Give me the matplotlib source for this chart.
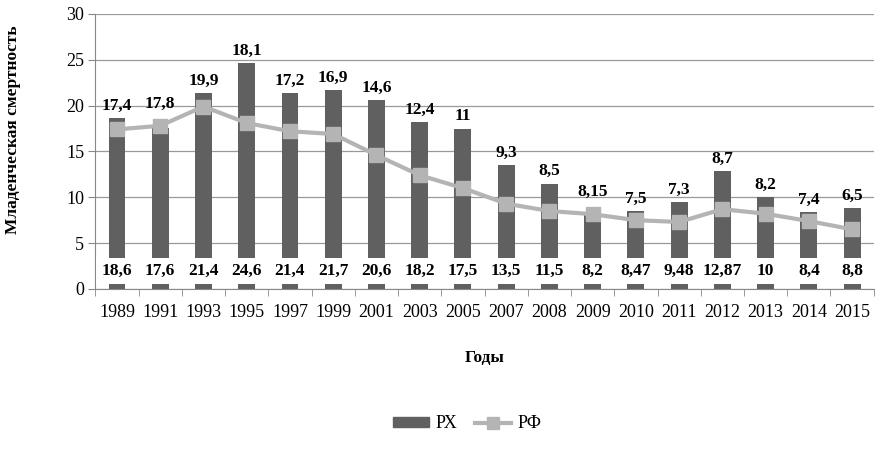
import matplotlib
matplotlib.use('Agg')
import matplotlib.pyplot as plt
from matplotlib.lines import Line2D
from matplotlib.patches import Patch

plt.rcParams['font.family'] = ['Liberation Serif', 'DejaVu Serif']

# Data
years = ['1989', '1991', '1993', '1995', '1997', '1999', '2001', '2003', '2005',
         '2007', '2008', '2009', '2010', '2011', '2012', '2013', '2014', '2015']
rx = [18.6, 17.6, 21.4, 24.6, 21.4, 21.7, 20.6, 18.2, 17.5,
      13.5, 11.5, 8.2, 8.47, 9.48, 12.87, 10, 8.4, 8.8]
rf = [17.4, 17.8, 19.9, 18.1, 17.2, 16.9, 14.6, 12.4, 11,
      9.3, 8.5, 8.15, 7.5, 7.3, 8.7, 8.2, 7.4, 6.5]

bar_color = '#606060'
line_color = '#b4b4b4'


def fmt(v):
    return f'{v:g}'.replace('.', ',')


fig = plt.figure(figsize=(8.83, 4.5), dpi=100)
ax = fig.add_axes([0.108, 0.358, 0.8815, 0.611])

x = list(range(len(years)))
ax.bar(x, rx, width=0.39, color=bar_color, zorder=2)
ax.plot(x, rf, color=line_color, lw=3, marker='s', markersize=10, zorder=3)

# bottom labels for bars
for i, v in enumerate(rx):
    ax.text(i, 1.95, fmt(v), ha='center', va='center', fontsize=12.5, fontweight='bold',
            bbox=dict(boxstyle='square,pad=0.3', fc='white', ec='none'), zorder=4)

# labels for line
for i, (b, l) in enumerate(zip(rx, rf)):
    if b > l + 0.5:
        ax.annotate(fmt(l), (i, b), xytext=(0, 3), textcoords='offset points',
                    ha='center', va='bottom', fontsize=12.5, fontweight='bold', zorder=4)
    else:
        ax.annotate(fmt(l), (i, l), xytext=(0, 10), textcoords='offset points',
                    ha='center', va='bottom', fontsize=12.5, fontweight='bold', zorder=4)

ax.set_xlim(-0.5, len(years) - 0.5)
ax.set_ylim(0, 30)
ax.set_yticks([0, 5, 10, 15, 20, 25, 30])
ax.set_xticks(x)
ax.set_xticklabels(years)
ax.set_xticks([i + 0.5 for i in range(-1, len(years))], minor=True)
ax.tick_params(axis='x', which='major', length=0, labelsize=13, pad=11)
ax.tick_params(axis='x', which='minor', length=5, color='#888888')
ax.tick_params(axis='y', length=5, color='#888888', labelsize=13, pad=3)
ax.grid(axis='y', color='#999999', lw=0.9, zorder=0)
ax.set_axisbelow(True)
for s in ['top', 'right']:
    ax.spines[s].set_visible(False)
ax.spines['left'].set_color('#888888')
ax.spines['bottom'].set_color('#888888')

ax.set_ylabel('Младенческая смертность', fontsize=12.5, fontweight='bold')
ax.yaxis.set_label_coords(-0.096, 0.58)
ax.set_xlabel('Годы', fontsize=12.5, fontweight='bold', labelpad=21)

handles = [Patch(color=bar_color),
           Line2D([], [], color=line_color, lw=3, marker='s', markersize=8)]
fig.legend(handles, ['РХ', 'РФ'], loc='center', bbox_to_anchor=(0.529, 0.058), ncol=2,
           frameon=False, fontsize=13, handlelength=2.0, handleheight=0.4, columnspacing=1.0,
           handletextpad=0.35)

fig.savefig('out.png', dpi=100)
